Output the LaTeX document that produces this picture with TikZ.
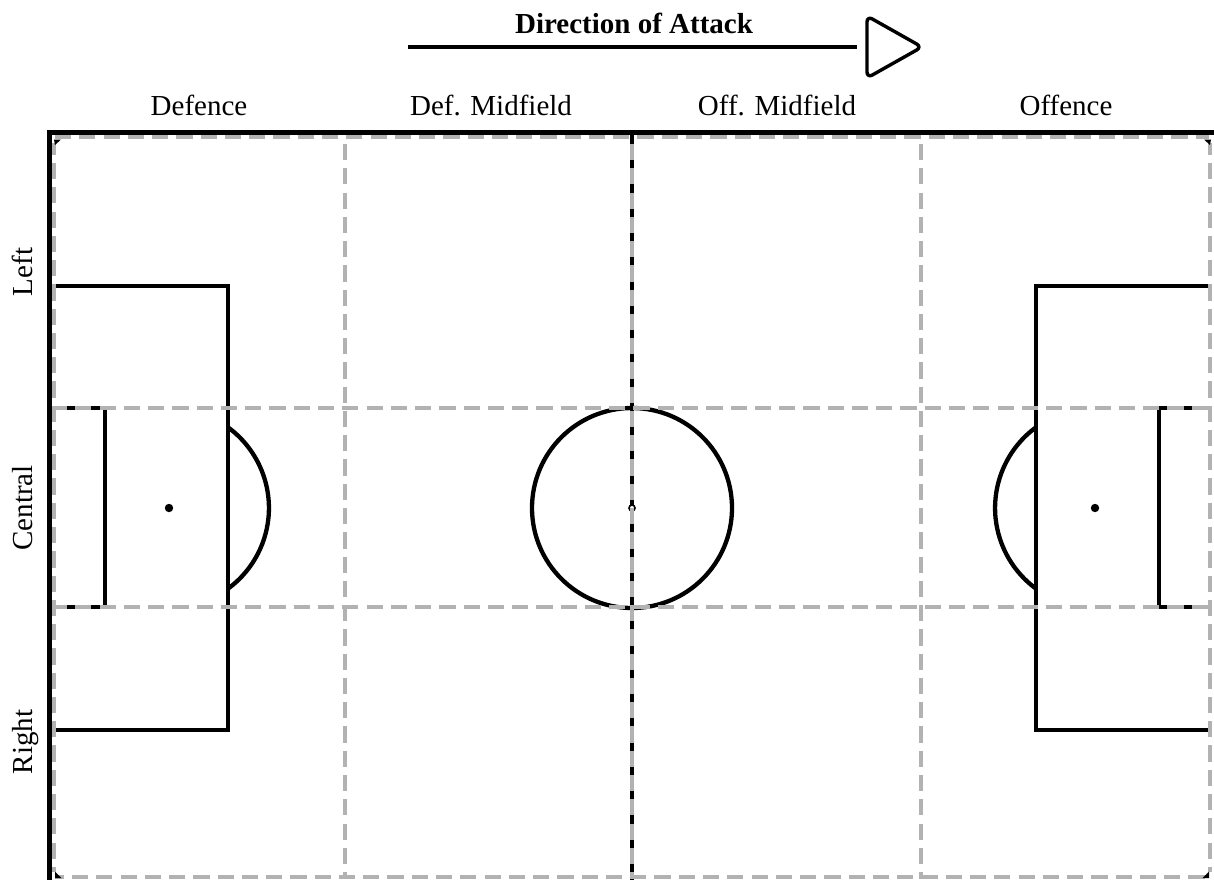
\documentclass[tikz,border=0pt]{standalone}
\usepackage{fontspec}
\setmainfont{Liberation Serif}
\tikzset{
  blk/.style={draw=black,line width=4.3pt},
  gry/.style={draw=black!30,line width=3.8pt,dash pattern=on 16.2pt off 8.07pt},
  lab/.style={font=\fontsize{29}{34}\selectfont,inner sep=0pt,anchor=base},
}
\begin{document}
\begin{tikzpicture}[x=1pt,y=-1pt]
\useasboundingbox (0,0) rectangle (1214,879);
\fill[white] (0,0) rectangle (1214,879);
% header
\node[font=\bfseries\fontsize{29}{34}\selectfont,inner sep=0pt,anchor=base] (title) at (634,33) {Direction of Attack};
\coordinate (as) at (408,47);
\coordinate (ae) at (857,47);
\draw[line width=3.2pt] (as) -- (ae);
\draw[line width=3.4pt,line join=round,rounded corners=6pt] (867,16) -- (922,47) -- (867,78) -- cycle;
% labels
\node[lab] (d1) at (199,115) {Defence};
\node[lab] (d2) at (491,115) {Def. Midfield};
\node[lab] (d3) at (777,115) {Off. Midfield};
\node[lab] (d4) at (1066,115) {Offence};
\node[lab,rotate=90] (l1) at (32,272) {Left};
\node[lab,rotate=90] (l2) at (32,508) {Central};
\node[lab,rotate=90] (l3) at (32,742) {Right};
% pitch
\draw[blk,line width=5pt] (49,884) -- (49,132) -- (1215,132);
\draw[blk] (632,132) -- (632,884);
\draw[blk] (632,508) circle (100);
\draw[blk,line cap=butt] (54,286) -- (228,286) -- (228,730) -- (54,730);
\draw[blk,line cap=butt] (54,408) -- (105,408) -- (105,607) -- (54,607);
\draw[blk,line cap=butt] (1211,286) -- (1036,286) -- (1036,730) -- (1211,730);
\draw[blk,line cap=butt] (1211,408) -- (1159,408) -- (1159,607) -- (1211,607);
\draw[blk] (228,427.3) arc[start angle=-53.8,end angle=53.8,x radius=100pt,y radius=-100pt];
\draw[blk] (1036,427.3) arc[start angle=233.8,end angle=126.2,x radius=100pt,y radius=-100pt];
\fill (169,508) circle (4.2);
\fill (1095,508) circle (4.2);
\draw[fill=white,line width=1.6pt] (632,508) circle (3);
% zones
\draw[gry] (55,137) -- (1209,137);
\draw[gry,dash phase=7.3pt] (55,877) -- (1209,877);
\draw[gry,dash phase=4.3pt] (54,143) -- (54,872);
\draw[gry,dash phase=4.3pt] (1210,143) -- (1210,872);
\draw[gry,dash phase=3pt] (54,408) -- (1210,408);
\draw[gry,dash phase=3pt] (54,607) -- (1210,607);
\draw[gry,dash phase=17.3pt] (345,137) -- (345,879);
\draw[gry,dash phase=17.3pt] (632,137) -- (632,879);
\draw[gry,dash phase=17.3pt] (921,137) -- (921,879);
% corner marks
\fill (54,139.5) -- (61,139.5) -- (55,145) -- cycle;
\fill (1211,139.5) -- (1204,139.5) -- (1210,145) -- cycle;
\fill (55,871.5) -- (61.5,878) -- (55,878) -- cycle;
\fill (1209,871.5) -- (1202.5,878) -- (1209,878) -- cycle;
\end{tikzpicture}
\end{document}
